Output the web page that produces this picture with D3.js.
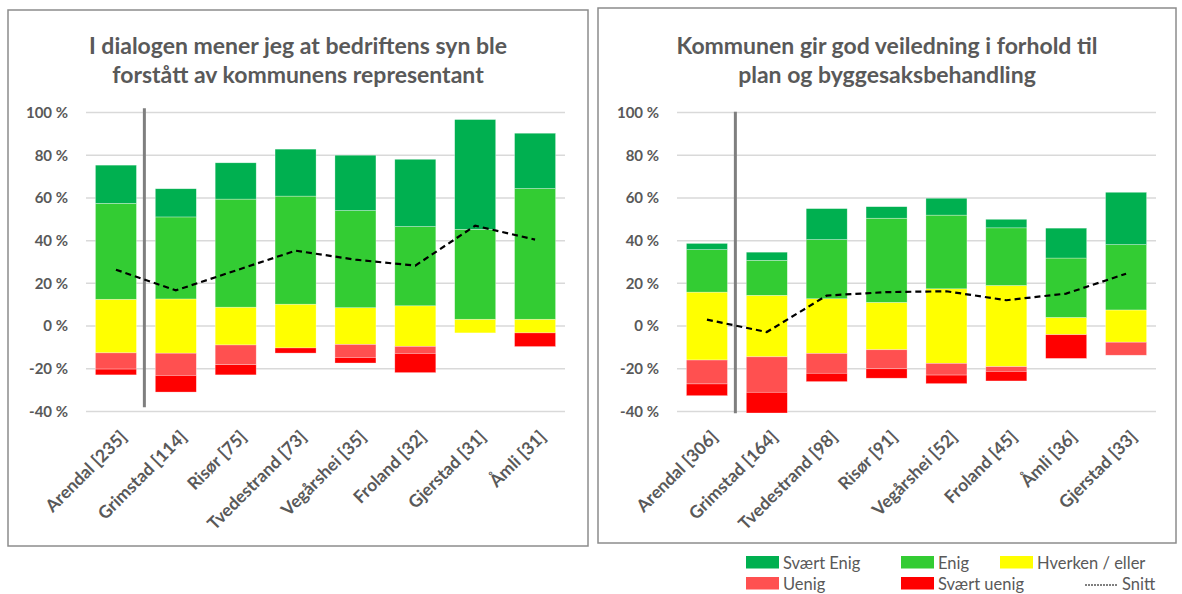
<!DOCTYPE html>
<html>
<head>
<meta charset="utf-8">
<script src="https://cdn.jsdelivr.net/npm/d3@7"></script>
<style>
  body { margin: 0; background: #fff; }
  svg { display: block; font-family: Lato, "Open Sans", sans-serif; }
</style>
</head>
<body>
<div id="chart"></div>
<script>
// Data (percent)
var seriesNames = ["Svært Enig", "Enig", "Hverken / eller", "Uenig", "Svært uenig", "Snitt"];
var yTicks = [-40, -20, 0, 20, 40, 60, 80, 100];

// Left chart
var leftTitle = ["I dialogen mener jeg at bedriftens syn ble", "forstått av kommunens  representant"];
var leftCats = ["Arendal [235]", "Grimstad [114]", "Risør [75]", "Tvedestrand [73]", "Vegårshei [35]", "Froland [32]", "Gjerstad [31]", "Åmli [31]"];
var leftSvaertEnig = [17.9, 13.2, 17.0, 22.0, 25.9, 31.5, 51.4, 25.9];
var leftEnig = [44.9, 38.4, 50.6, 50.6, 45.5, 37.1, 42.1, 61.2];
var leftHverken = [25.1, 25.4, 17.7, 20.5, 17.2, 19.0, 6.4, 6.4];
var leftUenig = [7.6, 10.4, 9.2, 0, 6.1, 3.3, 0, 0];
var leftSvaertUenig = [2.7, 7.8, 4.8, 2.4, 2.6, 9.0, 0, 6.4];
var leftSnitt = [26.4, 16.7, 26.0, 35.3, 31.1, 28.3, 47.0, 40.5];

// Right chart
var rightTitle = ["Kommunen gir god veiledning i forhold til", "plan og byggesaksbehandling"];
var rightCats = ["Arendal [306]", "Grimstad [164]", "Tvedestrand [98]", "Risør [91]", "Vegårshei [52]", "Froland [45]", "Åmli [36]", "Gjerstad [33]"];
var rightSvaertEnig = [2.9, 3.8, 14.5, 5.4, 7.9, 4.0, 14.0, 24.5];
var rightEnig = [19.9, 16.4, 27.7, 39.4, 34.5, 27.0, 27.8, 30.6];
var rightHverken = [31.8, 28.8, 25.6, 22.2, 34.9, 38.0, 8.1, 15.1];
var rightUenig = [11.2, 16.6, 9.3, 8.9, 5.5, 2.2, 0, 6.1];
var rightSvaertUenig = [5.5, 9.7, 3.9, 4.4, 4.0, 4.5, 11.1, 0];
var rightSnitt = [3.0, -2.8, 14.3, 15.9, 16.3, 12.1, 15.2, 24.5];

var colors = {
    svaertEnig: "#00B050",
    enig: "#33CC33",
    hverken: "#FFFF00",
    uenig: "#FF5050",
    svaertUenig: "#FF0000"
};
var textColor = "#595959";

var svgWidth = 1182;
var svgHeight = 594;

var svg = d3.select("#chart")
    .append("svg")
    .attr("width", svgWidth)
    .attr("height", svgHeight);

function drawPanel(p) {
    var g = svg.append("g");

    // panel frame
    g.append("rect")
        .attr("x", p.box[0]).attr("y", p.box[1])
        .attr("width", p.box[2]).attr("height", p.box[3])
        .attr("fill", "none")
        .attr("stroke", "#8c8c8c")
        .attr("stroke-width", 1.5);

    // title
    g.append("text")
        .attr("text-anchor", "middle")
        .style("font-size", "23px")
        .style("font-weight", 700)
        .style("fill", textColor)
        .selectAll("tspan")
        .data(p.title)
        .enter()
        .append("tspan")
        .attr("x", p.box[0] + p.box[2] / 2)
        .attr("y", (d, i) => 54 + i * 29)
        .text(d => d);

    var x = d3.scaleBand()
        .domain(p.cats)
        .range([p.x0, p.x1])
        .paddingInner(0.315)
        .paddingOuter(0.1575);

    var y = d3.scaleLinear()
        .domain([-40, 100])
        .range([411.5, 112.5]);

    // gridlines
    g.append("g")
        .selectAll("line")
        .data(yTicks)
        .enter()
        .append("line")
        .attr("x1", p.x0).attr("x2", p.x1)
        .attr("y1", d => y(d)).attr("y2", d => y(d))
        .attr("stroke", "#d9d9d9")
        .attr("stroke-width", 1.5);

    // y axis labels
    var yAxis = d3.axisLeft(y)
        .tickValues(yTicks)
        .tickSize(0)
        .tickPadding(0)
        .tickFormat(d => d + " %");
    var yg = g.append("g")
        .attr("transform", `translate(${p.x0 - 18}, 0)`)
        .call(yAxis);
    yg.select(".domain").remove();
    yg.selectAll("text")
        .style("font-family", "Lato, sans-serif")
        .style("font-size", "15px")
        .style("font-weight", 700)
        .style("fill", textColor);

    // stacked rows, hverken centred on zero
    var rows = p.cats.map(function(c, i) {
        var h = p.hverken[i] / 2;
        return [
            {cat: c, lo: -h, hi: h, fill: colors.hverken},
            {cat: c, lo: h, hi: h + p.enig[i], fill: colors.enig},
            {cat: c, lo: h + p.enig[i], hi: h + p.enig[i] + p.svaertEnig[i], fill: colors.svaertEnig},
            {cat: c, lo: -h - p.uenig[i], hi: -h, fill: colors.uenig},
            {cat: c, lo: -h - p.uenig[i] - p.svaertUenig[i], hi: -h - p.uenig[i], fill: colors.svaertUenig}
        ];
    });

    g.append("g")
        .selectAll("rect")
        .data(rows.flat().filter(d => d.hi - d.lo > 0))
        .enter()
        .append("rect")
        .attr("x", d => x(d.cat))
        .attr("width", x.bandwidth())
        .attr("y", d => y(d.hi))
        .attr("height", d => y(d.lo) - y(d.hi))
        .attr("fill", d => d.fill)
        .attr("stroke", "rgba(255,255,255,0.5)")
        .attr("stroke-width", 0.6);

    // grey separator after the first category
    var sepX = x(p.cats[0]) + x.bandwidth() + x.step() * 0.315 / 2 - 1.5;
    g.append("line")
        .attr("x1", sepX).attr("x2", sepX)
        .attr("y1", y(p.sep[0])).attr("y2", y(p.sep[1]))
        .attr("stroke", "#7f7f7f")
        .attr("stroke-width", 3);

    // Snitt
    var line = d3.line()
        .x((d, i) => x(p.cats[i]) + x.bandwidth() / 2)
        .y(d => y(d));
    g.append("path")
        .datum(p.snitt)
        .attr("d", line)
        .attr("fill", "none")
        .attr("stroke", "#000")
        .attr("stroke-width", 2.2)
        .attr("stroke-dasharray", "6,4");

    // category labels
    g.append("g")
        .selectAll("text")
        .data(p.cats)
        .enter()
        .append("text")
        .attr("text-anchor", "end")
        .attr("transform", d => `translate(${x(d) + x.bandwidth() / 2 + 12}, 438) rotate(-45)`)
        .style("font-size", "17.5px")
        .style("font-weight", 700)
        .style("fill", textColor)
        .text(d => d);
}

drawPanel({
    box: [8, 10, 580, 536],
    title: leftTitle,
    cats: leftCats,
    svaertEnig: leftSvaertEnig,
    enig: leftEnig,
    hverken: leftHverken,
    uenig: leftUenig,
    svaertUenig: leftSvaertUenig,
    snitt: leftSnitt,
    x0: 86, x1: 565,
    sep: [102, -38]
});

drawPanel({
    box: [598, 8, 578, 535],
    title: rightTitle,
    cats: rightCats,
    svaertEnig: rightSvaertEnig,
    enig: rightEnig,
    hverken: rightHverken,
    uenig: rightUenig,
    svaertUenig: rightSvaertUenig,
    snitt: rightSnitt,
    x0: 677, x1: 1156,
    sep: [100.3, -40.8]
});

// legend
var legendItems = [
    {name: seriesNames[0], fill: colors.svaertEnig, x: 746, y: 556},
    {name: seriesNames[1], fill: colors.enig, x: 901, y: 556},
    {name: seriesNames[2], fill: colors.hverken, x: 1000, y: 556},
    {name: seriesNames[3], fill: colors.uenig, x: 746, y: 577},
    {name: seriesNames[4], fill: colors.svaertUenig, x: 901, y: 577},
    {name: seriesNames[5], fill: null, x: 1085, y: 577}
];

var legend = svg.append("g");
legendItems.forEach(function(d) {
    if (d.fill) {
        legend.append("rect")
            .attr("x", d.x).attr("y", d.y)
            .attr("width", 33).attr("height", 12.5)
            .attr("fill", d.fill);
    } else {
        legend.append("line")
            .attr("x1", d.x).attr("x2", d.x + 33)
            .attr("y1", d.y + 8).attr("y2", d.y + 8)
            .attr("stroke", "#000")
            .attr("stroke-width", 1)
            .attr("stroke-dasharray", "2,1");
    }
    legend.append("text")
        .attr("x", d.x + 37)
        .attr("y", d.y + 13)
        .style("font-size", "16.5px")
        .style("fill", textColor)
        .text(d.name);
});
</script>
</body>
</html>
